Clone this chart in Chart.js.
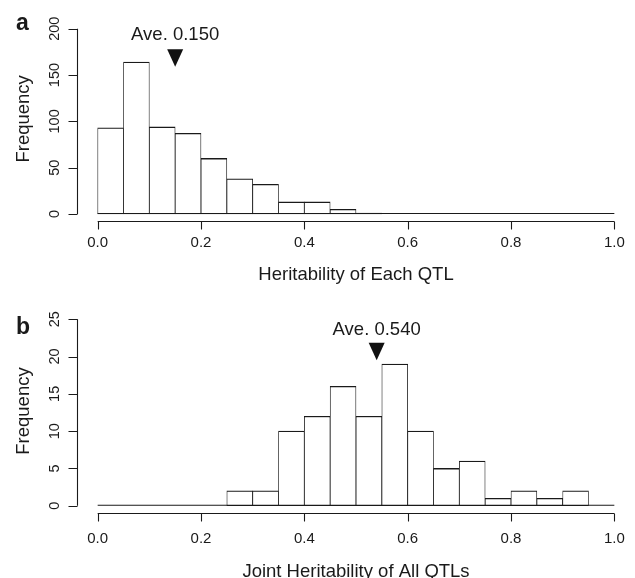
<!DOCTYPE html>
<html>
<head>
<meta charset="utf-8">
<script src="https://cdn.jsdelivr.net/npm/chart.js@4.4.1/dist/chart.umd.min.js"></script>
<style>
  html, body { margin: 0; padding: 0; background: #fff; }
  #wrap { position: relative; width: 635px; height: 578px; }
  .panel { position: absolute; left: 0; width: 635px; height: 289px; }
</style>
</head>
<body>
<div id="wrap">
  <div class="panel" style="top:0"><canvas id="chartA" width="635" height="289"></canvas></div>
  <div class="panel" style="top:289px"><canvas id="chartB" width="635" height="289"></canvas></div>
</div>
<script>
// Histogram bin edges (width 0.05) shared by both panels
const binEdges = [0.00, 0.05, 0.10, 0.15, 0.20, 0.25, 0.30, 0.35, 0.40, 0.45, 0.50,
                  0.55, 0.60, 0.65, 0.70, 0.75, 0.80, 0.85, 0.90, 0.95, 1.00];

// Panel a: heritability of each QTL
const countsEach = [93, 164, 94, 87, 60, 38, 32, 13, 13, 5, 1, 0, 0, 0, 0, 0, 0, 0, 0, 0];
// Panel b: joint heritability of all QTLs
const countsJoint = [0, 0, 0, 0, 0, 2, 2, 10, 12, 16, 12, 19, 10, 5, 6, 1, 2, 1, 2, 0];

const xTicks = [0.0, 0.2, 0.4, 0.6, 0.8, 1.0];
const yTicksEach = [0, 50, 100, 150, 200];
const yTicksJoint = [0, 5, 10, 15, 20, 25];

const aveEach = 0.150;
const aveJoint = 0.540;

const INK = '#1a1a1a';
const FONT = '"Liberation Sans", Arial, Helvetica, sans-serif';

function binPoints(counts) {
  return counts.map((c, i) => ({ x: (binEdges[i] + binEdges[i + 1]) / 2, y: c }));
}

// Draws R-style detached axes, labels and the average marker
const histAxes = {
  id: 'histAxes',
  afterDraw(chart, args, o) {
    const ctx = chart.ctx;
    const xs = chart.scales.x, ys = chart.scales.y;
    const area = chart.chartArea;
    const crisp = v => Math.round(v) + 0.5;
    ctx.save();
    ctx.strokeStyle = INK;
    ctx.fillStyle = INK;
    ctx.lineWidth = 1.1;

    // baseline under the bars (covers empty bins too)
    const y0 = ys.getPixelForValue(0);
    ctx.beginPath();
    ctx.moveTo(xs.getPixelForValue(binEdges[0]), y0 - 0.5);
    ctx.lineTo(xs.getPixelForValue(binEdges[binEdges.length - 1]), y0 - 0.5);
    ctx.stroke();

    // x axis
    const ax = crisp(area.bottom);
    ctx.beginPath();
    ctx.moveTo(xs.getPixelForValue(xTicks[0]), ax);
    ctx.lineTo(xs.getPixelForValue(xTicks[xTicks.length - 1]), ax);
    xTicks.forEach(t => {
      const px = crisp(xs.getPixelForValue(t));
      ctx.moveTo(px, ax);
      ctx.lineTo(px, ax + o.tickLen);
    });
    ctx.stroke();
    ctx.font = o.tickFont + 'px ' + FONT;
    ctx.textAlign = 'center';
    ctx.textBaseline = 'alphabetic';
    xTicks.forEach(t => {
      ctx.fillText(t.toFixed(1), xs.getPixelForValue(t), area.bottom + o.xLabelOff);
    });
    ctx.font = o.titleFont + 'px ' + FONT;
    ctx.fillText(o.xTitle, xs.getPixelForValue(0.5), area.bottom + o.xTitleOff);

    // y axis
    const ay = crisp(area.left);
    ctx.beginPath();
    ctx.moveTo(ay, ys.getPixelForValue(o.yTicks[0]));
    ctx.lineTo(ay, ys.getPixelForValue(o.yTicks[o.yTicks.length - 1]));
    o.yTicks.forEach(t => {
      const py = crisp(ys.getPixelForValue(t));
      ctx.moveTo(ay, py);
      ctx.lineTo(ay - o.yTickLen, py);
    });
    ctx.stroke();
    ctx.font = o.yTickFont + 'px ' + FONT;
    o.yTicks.forEach(t => {
      ctx.save();
      ctx.translate(area.left - o.yLabelOff, ys.getPixelForValue(t));
      ctx.rotate(-Math.PI / 2);
      ctx.textAlign = 'center';
      ctx.fillText(String(t), 0, 0);
      ctx.restore();
    });
    ctx.save();
    ctx.font = o.titleFont + 'px ' + FONT;
    ctx.translate(o.yTitleX, (area.top + area.bottom) / 2 + o.yTitleShift);
    ctx.rotate(-Math.PI / 2);
    ctx.textAlign = 'center';
    ctx.fillText(o.yTitle, 0, 0);
    ctx.restore();

    // panel letter
    ctx.font = 'bold ' + o.letterFont + 'px ' + FONT;
    ctx.textAlign = 'left';
    ctx.fillText(o.letter, o.letterX, o.letterY);

    // average marker and label
    const mx = xs.getPixelForValue(o.ave);
    ctx.font = o.titleFont + 'px ' + FONT;
    ctx.textAlign = 'center';
    ctx.fillText('Ave. ' + o.ave.toFixed(3), mx, area.top + o.aveTextOff);
    ctx.beginPath();
    ctx.moveTo(mx - o.triW / 2, area.top + o.triTop);
    ctx.lineTo(mx + o.triW / 2, area.top + o.triTop);
    ctx.lineTo(mx, area.top + o.triTop + o.triH);
    ctx.closePath();
    ctx.fillStyle = '#111';
    ctx.fill();

    ctx.restore();
  }
};

function makeHist(canvasId, counts, yMax, pad, axesOpts) {
  const yPad = yMax * 0.04;
  return new Chart(document.getElementById(canvasId), {
    type: 'bar',
    data: {
      datasets: [{
        data: binPoints(counts),
        backgroundColor: '#ffffff',
        borderColor: INK,
        borderWidth: { top: 1.3, bottom: 1, left: 0.8, right: 0.8 },
        borderSkipped: false,
        barPercentage: 1,
        categoryPercentage: 1
      }]
    },
    options: {
      responsive: false,
      animation: false,
      devicePixelRatio: 1,
      layout: { padding: pad },
      plugins: {
        legend: { display: false },
        tooltip: { enabled: false },
        histAxes: axesOpts
      },
      scales: {
        x: { type: 'linear', min: -0.04, max: 1.04, offset: false, display: false },
        y: { type: 'linear', min: -yPad, max: yMax + yPad, display: false }
      }
    },
    plugins: [histAxes]
  });
}

const common = {
  tickLen: 8, yTickLen: 9, tickFont: 15, yTickFont: 14.5, titleFont: 18.5, letterFont: 23,
  yLabelOff: 18, yTitleX: 29, letterX: 16, triW: 16, triH: 17.5
};

makeHist('chartA', countsEach, 200,
  { left: 77, right: 0, top: 21.3, bottom: 67.6 },
  Object.assign({}, common, {
    yTicks: yTicksEach, xTitle: 'Heritability of Each QTL', yTitle: 'Frequency',
    xLabelOff: 26, xTitleOff: 58.5, yTitleShift: -2.5,
    letter: 'a', letterY: 30, ave: aveEach, aveTextOff: 18.7, triTop: 28
  }));

makeHist('chartB', countsJoint, 25,
  { left: 77, right: 0, top: 22.8, bottom: 64.8 },
  Object.assign({}, common, {
    yTicks: yTicksJoint, xTitle: 'Joint Heritability of All QTLs', yTitle: 'Frequency',
    xLabelOff: 30, xTitleOff: 63.5, yTitleShift: -1.5,
    letter: 'b', letterY: 45, ave: aveJoint, aveTextOff: 23.2, triTop: 31
  }));
</script>
</body>
</html>
